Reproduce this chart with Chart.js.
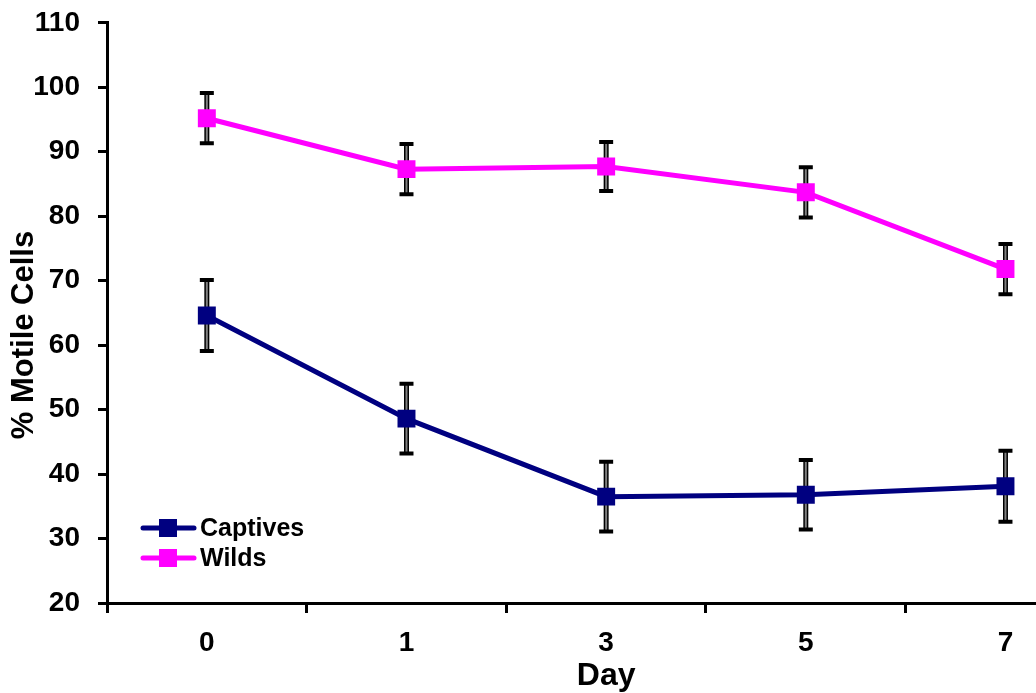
<!DOCTYPE html>
<html>
<head>
<meta charset="utf-8">
<script src="https://cdn.jsdelivr.net/npm/chart.js@4"></script>
<style>
  html, body { margin: 0; padding: 0; background: #fff; overflow: hidden; }
  canvas { display: block; margin-top: -12px; }
</style>
</head>
<body>
<canvas id="myChart" width="1118" height="705"></canvas>
<script>
let days = ['0', '1', '3', '5', '7'];
let captives = [64.6, 48.6, 36.5, 36.8, 38.1];
let captivesErr = [5.5, 5.4, 5.4, 5.4, 5.5];
let wilds = [95.2, 87.3, 87.7, 83.7, 71.8];
let wildsErr = [3.9, 3.9, 3.8, 3.9, 3.9];
let yTicks = [20, 30, 40, 50, 60, 70, 80, 90, 100, 110];

const FONT = "'Liberation Sans', Arial, sans-serif";
const SHIFT = 12; // canvas is pulled up by this much

// error bars drawn under the markers
const errorBars = {
  id: 'errorBars',
  beforeDatasetsDraw(chart) {
    const ctx = chart.ctx;
    const y = chart.scales.y;
    chart.data.datasets.forEach((ds, i) => {
      const meta = chart.getDatasetMeta(i);
      meta.data.forEach((pt, j) => {
        const v = ds.data[j], e = ds.errors[j];
        const top = y.getPixelForValue(v + e);
        const bot = y.getPixelForValue(v - e);
        ctx.save();
        ctx.strokeStyle = '#000';
        ctx.lineWidth = 5;
        ctx.beginPath(); ctx.moveTo(pt.x, top); ctx.lineTo(pt.x, bot); ctx.stroke();
        ctx.strokeStyle = '#808080';
        ctx.lineWidth = 2;
        ctx.beginPath(); ctx.moveTo(pt.x, top); ctx.lineTo(pt.x, bot); ctx.stroke();
        ctx.strokeStyle = '#000';
        ctx.lineWidth = 4;
        ctx.beginPath();
        ctx.moveTo(pt.x - 7, top); ctx.lineTo(pt.x + 7, top);
        ctx.moveTo(pt.x - 7, bot); ctx.lineTo(pt.x + 7, bot);
        ctx.stroke();
        ctx.restore();
      });
    });
  }
};

// legend inside plot + rotated y title
const extras = {
  id: 'extras',
  afterDraw(chart) {
    const ctx = chart.ctx;
    ctx.save();
    chart.data.datasets.forEach((ds, i) => {
      const ly = 528 + SHIFT + i * 30;
      ctx.strokeStyle = ds.borderColor;
      ctx.lineWidth = 5;
      ctx.lineCap = 'round';
      ctx.beginPath(); ctx.moveTo(143, ly); ctx.lineTo(194, ly); ctx.stroke();
      ctx.fillStyle = ds.borderColor;
      ctx.fillRect(159, ly - 9, 18, 18);
      ctx.fillStyle = '#000';
      ctx.font = 'bold 25px ' + FONT;
      ctx.textAlign = 'left';
      ctx.textBaseline = 'middle';
      ctx.fillText(ds.label, 200, ly + 1);
    });
    ctx.translate(24, 335 + SHIFT);
    ctx.rotate(-Math.PI / 2);
    ctx.font = 'bold 31px ' + FONT;
    ctx.textAlign = 'center';
    ctx.textBaseline = 'middle';
    ctx.fillStyle = '#000';
    ctx.fillText('% Motile Cells', 0, 0);
    ctx.restore();
  }
};

let ctx = document.getElementById('myChart').getContext('2d');
let myChart = new Chart(ctx, {
  type: 'line',
  data: {
    labels: days,
    datasets: [{
      label: 'Captives',
      data: captives,
      errors: captivesErr,
      borderColor: '#000080',
      backgroundColor: '#000080',
      pointBackgroundColor: '#000080',
      borderWidth: 5,
      pointStyle: 'rect',
      pointRadius: 12.7,
      pointBorderWidth: 0,
      tension: 0
    }, {
      label: 'Wilds',
      data: wilds,
      errors: wildsErr,
      borderColor: '#FF00FF',
      backgroundColor: '#FF00FF',
      pointBackgroundColor: '#FF00FF',
      borderWidth: 5,
      pointStyle: 'rect',
      pointRadius: 12.7,
      pointBorderWidth: 0,
      tension: 0
    }]
  },
  options: {
    responsive: false,
    animation: false,
    devicePixelRatio: 1,
    layout: { padding: { left: 0, top: 10, right: 5, bottom: 0 } },
    plugins: {
      legend: { display: false },
      tooltip: { enabled: false }
    },
    scales: {
      x: {
        offset: true,
        grid: { offset: true, drawOnChartArea: false, tickLength: 10, tickWidth: 3, tickColor: '#000' },
        border: { color: '#000', width: 3 },
        ticks: { color: '#000', padding: 13, font: { family: FONT, size: 28, weight: 'bold' } },
        title: {
          display: true, text: 'Day', color: '#000',
          font: { family: FONT, size: 32, weight: 'bold', lineHeight: 1 },
          padding: { top: 0, bottom: 1 }
        },
        afterFit(scale) { scale.height = 90; }
      },
      y: {
        min: 20,
        max: 110,
        afterBuildTicks(scale) { scale.ticks = yTicks.map(v => ({ value: v })); },
        grid: { drawOnChartArea: false, tickLength: 9, tickWidth: 3, tickColor: '#000' },
        border: { color: '#000', width: 3 },
        ticks: { color: '#000', padding: 18, font: { family: FONT, size: 28, weight: 'bold' } },
        afterFit(scale) { scale.width = 107; }
      }
    }
  },
  plugins: [errorBars, extras]
});
</script>
</body>
</html>
